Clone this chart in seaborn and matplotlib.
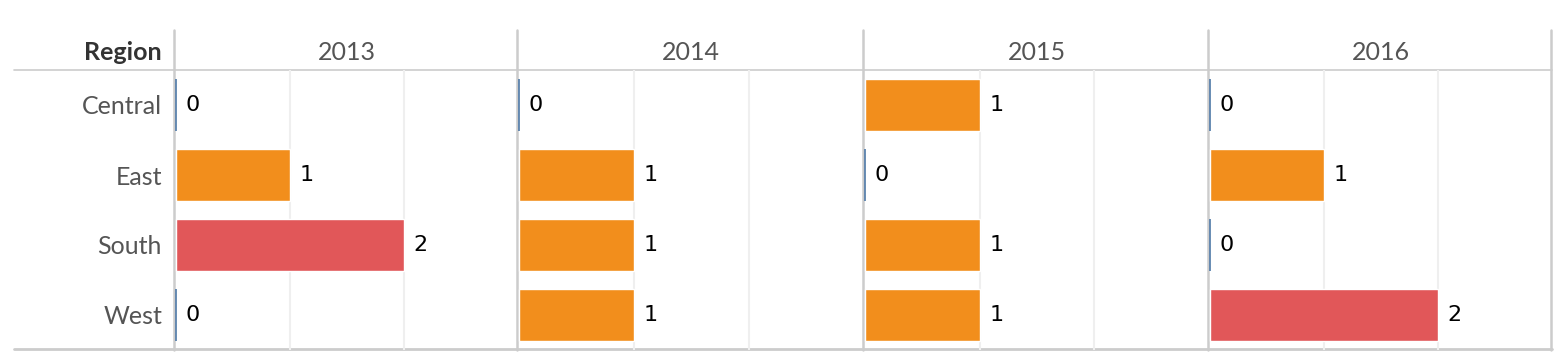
import numpy as np
import pandas as pd
import matplotlib
matplotlib.use('Agg')
import matplotlib.pyplot as plt
from matplotlib.lines import Line2D
import seaborn as sns

# data
years = ['2013', '2014', '2015', '2016']
regions = ['Central', 'East', 'South', 'West']
counts_2013 = [0, 1, 2, 0]
counts_2014 = [0, 1, 1, 1]
counts_2015 = [1, 0, 1, 1]
counts_2016 = [0, 1, 0, 2]

level_colors = {'0': '#4e79a7', '1': '#f28e1c', '2': '#e15759'}

rows = []
for yr, vals in zip(years, [counts_2013, counts_2014, counts_2015, counts_2016]):
    for reg, v in zip(regions, vals):
        rows.append({'year': yr, 'region': reg, 'count': v, 'level': str(v)})
df = pd.DataFrame(rows)

sns.set_style('white')
plt.rcParams['font.family'] = ['Lato', 'DejaVu Sans']

W, H = 1562, 364
fig = plt.figure(figsize=(W / 100, H / 100), dpi=100)

panel_edges = [175, 518, 864, 1209, 1552]
top_y, head_y, bot_y = 30, 70, 350


def fx(px):
    return px / W


def fy(py):
    return 1 - py / H


grid_col = '#cccccc'

for i, yr in enumerate(years):
    x0, x1 = panel_edges[i], panel_edges[i + 1]
    ax = fig.add_axes([fx(x0), fy(bot_y), fx(x1 - x0), (bot_y - head_y) / H])
    ax.set_facecolor('none')
    ax.set_zorder(2)
    sub = df[df['year'] == yr]
    sns.barplot(data=sub, x='count', y='region', hue='level',
                hue_order=['0', '1', '2'], palette=level_colors,
                order=regions, dodge=False, width=0.74, legend=False,
                saturation=1, ax=ax)
    ax.set_xlim(-0.01, 3)
    ax.set_ylim(3.5, -0.5)
    for gx in [1, 2]:
        ax.axvline(gx, color='#efefef', lw=1.5, zorder=0)
    for p in ax.patches:
        if p.get_width() == 0 and p.get_height() > 0:
            p.set_edgecolor(level_colors['0'])
            p.set_linewidth(1.2)
    for c in ax.containers:
        ax.bar_label(c, fmt='%d', padding=7, fontsize=16,
                     family='DejaVu Sans', color='black')
    ax.set_xticks([])
    ax.set_yticks([])
    ax.set_xlabel('')
    ax.set_ylabel('')
    for s in ax.spines.values():
        s.set_visible(False)
    fig.text(fx((x0 + x1) / 2), fy(52), yr, ha='center', va='center',
             fontsize=18, color='#555555')

# row labels
for j, reg in enumerate(regions):
    fig.text(fx(162), fy(107 + 70 * j), reg, ha='right', va='center',
             fontsize=18, color='#555555')
fig.text(fx(162), fy(52), 'Region', ha='right', va='center',
         fontsize=18, fontweight='bold', color='#333333')

# table lines
fig.add_artist(Line2D([fx(14), fx(1552)], [fy(head_y), fy(head_y)],
                      color=grid_col, lw=1.2, zorder=1))
fig.add_artist(Line2D([fx(14), fx(1552)], [fy(bot_y - 1), fy(bot_y - 1)],
                      color=grid_col, lw=2, zorder=1))
for xe in panel_edges:
    fig.add_artist(Line2D([fx(xe - 1), fx(xe - 1)], [fy(top_y), fy(bot_y)],
                          color=grid_col, lw=1.8, zorder=1))

fig.savefig('out.png', dpi=100)
